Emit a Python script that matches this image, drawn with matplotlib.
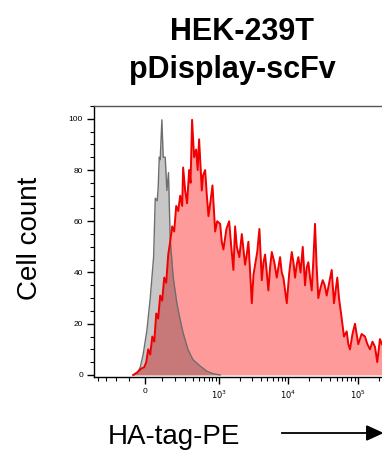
import numpy as np
import matplotlib.pyplot as plt
from matplotlib.ticker import FixedLocator, NullFormatter, MultipleLocator

plt.rcParams['font.family'] = ['Liberation Sans', 'DejaVu Sans']

# HA-tag-PE fluorescence (biexponential-ish axis) and cell counts
red_x = [-71, -47, -23, -6, 6, 17, 29, 41, 53, 65, 77, 90, 103, 117, 131, 146,
         161, 177, 194, 212, 231, 250, 271, 281, 304, 327, 353, 372, 393, 423,
         455, 480, 505, 555, 581, 623, 660, 698, 750, 800, 877, 938, 1037,
         1095, 1157, 1280, 1402, 1505, 1616, 1710, 1811, 1970, 2138, 2387,
         2520, 2662, 2820, 2981, 3150, 3325, 3570, 3837, 4153, 4390, 4635,
         4900, 5170, 5470, 5789, 6290, 6830, 7210, 7621, 8050, 8502, 9000,
         9518, 10340, 11223, 11860, 12528, 13230, 13972, 15030, 16165, 17452,
         18430, 19453, 20580, 21785, 23000, 24290, 25650, 27092, 29150, 31355,
         33500, 35774, 38870, 42230, 45571, 50843, 53800, 56933, 60150, 63527,
         69443, 73350, 77465, 84150, 91402, 101964, 114000, 127368, 138000,
         150336, 163300, 177306, 191400, 209322, 223590]
red_y = [0, 1, 2.5, 3, 5, 10, 8, 15, 13, 24, 22, 31, 29, 38, 36, 47,
         52, 58, 56, 66, 64, 70, 66, 81, 72, 67, 80, 75, 99.6, 85,
         88, 80, 92, 72, 78, 80, 70, 62, 68, 74, 56, 60, 59,
         52, 49, 57, 60, 50, 41, 58, 50, 46, 55, 43,
         47, 52, 40, 28, 39, 43, 48, 57, 37, 44, 47,
         40, 33, 42, 48, 44, 38, 42, 46, 40, 38, 33,
         28, 40, 48, 44, 38, 43, 46, 40, 50, 35,
         42, 44, 38, 33, 45, 59, 42, 30, 34, 37,
         35, 31, 36, 41, 28, 38, 30, 25, 20, 15,
         17, 12, 10, 16, 20, 12, 16, 15, 12,
         10, 13, 11, 5, 14, 12]

gray_x = [-71, -47, -29, -12, 10, 29, 49, 59, 71, 77, 84, 90, 101, 110, 124,
          136, 148, 161, 186, 218, 250, 281, 340, 408, 523, 666, 818, 1037]
gray_y = [0, 0.5, 3, 8, 17.6, 30, 46, 69, 68, 73, 85, 84, 99.6, 85, 85,
          72, 79, 53, 38, 28, 21.5, 16.4, 9.8, 5.9, 3.5, 1.4, 0.5, 0]

C = 174.0

fig = plt.figure(figsize=(3.82, 4.5), dpi=100)
ax = fig.add_axes([94 / 382, 1 - 377 / 450, 1 - 94 / 382, (377 - 106) / 450])
ax.set_xscale('function', functions=(lambda v: np.arcsinh(np.asarray(v) / C),
                                     lambda u: C * np.sinh(u)))

ax.fill_between(red_x, red_y, 0, color='#ff9a9a', lw=0, zorder=1)
ax.plot(red_x, red_y, color='#f00000', lw=1.4, zorder=3)
ax.fill_between(gray_x, gray_y, 0, color='black', alpha=0.22, lw=0, zorder=2)
ax.plot(gray_x, gray_y, color='#6e6e6e', lw=1.0, zorder=2.5)

ax.set_xlim(-460, 224000)
ax.set_ylim(-0.8, 105)

ax.yaxis.set_major_locator(MultipleLocator(20))
ax.yaxis.set_minor_locator(MultipleLocator(5))
ax.set_xticks([0, 1e3, 1e4, 1e5])
ax.set_xticklabels(['0', '$10^3$', '$10^4$', '$10^5$'])
minors = [-400, -300, -200, -100] + list(range(100, 1000, 100)) + \
    list(range(2000, 10000, 1000)) + list(range(20000, 100000, 10000)) + [200000]
ax.xaxis.set_minor_locator(FixedLocator(minors))
ax.xaxis.set_minor_formatter(NullFormatter())

ax.tick_params(which='major', direction='out', length=5, width=1, labelsize=6, pad=3)
ax.tick_params(which='minor', direction='out', length=3, width=0.8)
ax.spines['right'].set_visible(False)
for s in ['left', 'bottom', 'top']:
    ax.spines[s].set_linewidth(1.0)
ax.spines['top'].set_color('#555555')

fig.text(242 / 382, 1 - 32 / 450, 'HEK-239T', ha='center', va='center',
         fontsize=22, fontweight='bold')
fig.text(232 / 382, 1 - 70 / 450, 'pDisplay-scFv', ha='center', va='center',
         fontsize=22, fontweight='bold')
fig.text(30 / 382, 1 - 238 / 450, 'Cell count', rotation=90, ha='center',
         va='center', fontsize=20)
fig.text(108 / 382, 1 - 444 / 450, 'HA-tag-PE', ha='left', va='baseline', fontsize=20)
fig.add_artist(plt.Line2D([282 / 382, 0.985], [1 - 433 / 450] * 2, color='black', lw=1.3))
fig.patches.append(plt.Polygon([[0.96, 1 - 426 / 450], [1.0, 1 - 433 / 450],
                                [0.96, 1 - 440 / 450]], closed=True,
                               color='black', transform=fig.transFigure, figure=fig))

fig.savefig('out.png', dpi=100)
